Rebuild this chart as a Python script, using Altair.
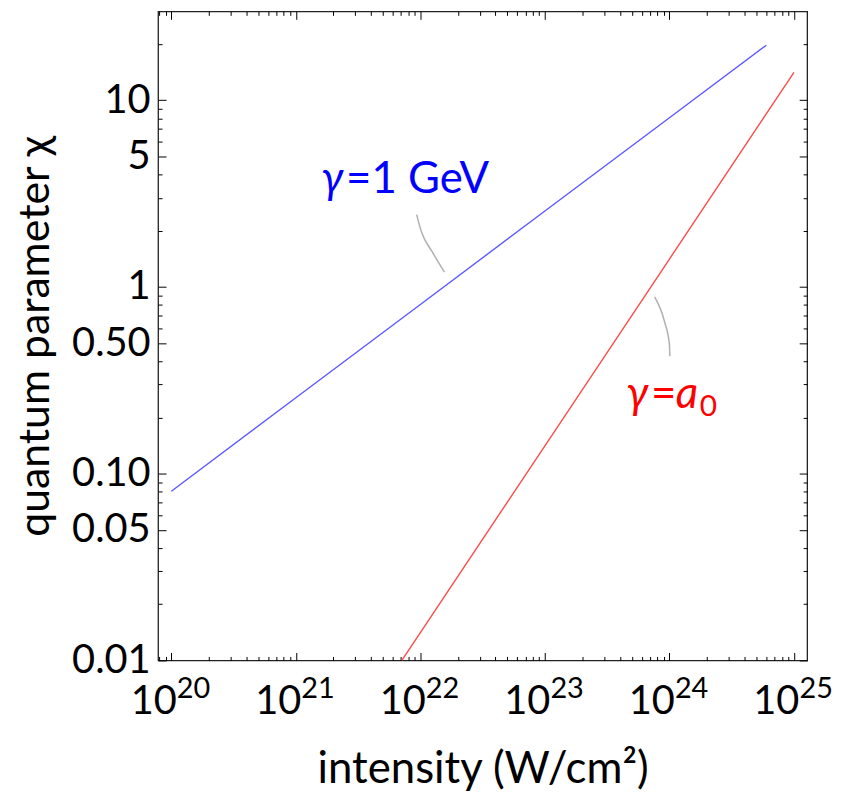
import altair as alt
import pandas as pd

# ---- data ----
blue_intensity = [1e20, 1e21, 1e22, 1e23, 1e24, 6e24]
blue_chi = [0.0805, 0.255, 0.805, 2.55, 8.05, 19.7]
red_intensity = [7.1e21, 1e22, 1e23, 1e24, 1e25]
red_chi = [0.01, 0.0141, 0.141, 1.41, 14.1]

blue_leader_intensity = [9.33e21, 1.023e22, 1.25e22, 1.56e22]
blue_leader_chi = [2.44, 1.96, 1.535, 1.20]
red_leader_intensity = [7.6e23, 9.14e23, 1.0e24, 1.007e24]
red_leader_chi = [0.885, 0.651, 0.491, 0.425]

label_intensity = [1.6e21, 4.49e23]
label_chi = [3.2, 0.2244]
label_colors = ["#0000ff", "#ff0000"]

x_domain = [7.83e19, 1.276e25]
y_domain = [0.01, 29.9]

x_label_values = [1e20, 1e21, 1e22, 1e23, 1e24, 1e25]
x_label_exponents = ["20", "21", "22", "23", "24", "25"]
x_tick_values = [8e19, 9e19] + [m * 10.0 ** e for e in range(20, 25) for m in range(1, 10)] + [1e25]

y_label_values = [0.01, 0.05, 0.1, 0.5, 1.0, 5.0, 10.0]
y_label_texts = ["0.01", "0.05", "0.10", "0.50", "1", "5", "10"]
y_tick_values = [m * 10.0 ** e for e in range(-2, 1) for m in range(1, 10)] + [10.0, 20.0]

W = 653
H = 653
FONT = "Lato"


def chain(values, texts):
    expr = "''"
    for v, t in reversed(list(zip(values, texts))):
        expr = f"abs(datum.value/{v!r}-1)<1e-6 ? '{t}' : ({expr})"
    return expr


x_major_test = "abs(log(datum.value)/LN10 - round(log(datum.value)/LN10)) < 0.001"
y_major_test = ("abs(log(datum.value)/LN10 - round(log(datum.value)/LN10)) < 0.001 || "
                "abs(log(datum.value/5)/LN10 - round(log(datum.value/5)/LN10)) < 0.001")

xscale = alt.Scale(type="log", domain=x_domain, nice=False)
yscale = alt.Scale(type="log", domain=y_domain, nice=False)

# axes
ax_x_base = alt.Axis(orient="bottom", values=x_label_values, labelExpr="'10'", labelFontSize=40,
                     labelAlign="right", labelOffset=5, labelBaseline="alphabetic", labelPadding=53,
                     ticks=False, tickSize=0, domain=False, grid=False, labelFlush=False,
                     labelOverlap=False, title="intensity (W/cm²)", titleFontSize=44,
                     titleFontWeight="normal", titlePadding=27)
ax_x_exp = alt.Axis(orient="bottom", values=x_label_values,
                    labelExpr=chain(x_label_values, x_label_exponents),
                    labelFontSize=29, labelAlign="left", labelOffset=5, labelBaseline="alphabetic",
                    labelPadding=37, ticks=False, tickSize=0, domain=False, grid=False,
                    labelFlush=False, labelOverlap=False, title=None)
x_ticksize = {"condition": {"test": x_major_test, "value": 8}, "value": 4}
ax_x_bottom_ticks = alt.Axis(orient="top", offset=-H, values=x_tick_values, labels=False, domain=False,
                             grid=False, ticks=True, tickSize=x_ticksize, tickColor="black", tickWidth=1,
                             title=None)
ax_x_top_ticks = alt.Axis(orient="bottom", offset=-H, values=x_tick_values, labels=False, domain=False,
                          grid=False, ticks=True, tickSize=x_ticksize, tickColor="black", tickWidth=1,
                          title=None)

ax_y_labels = alt.Axis(orient="left", values=y_label_values, labelExpr=chain(y_label_values, y_label_texts),
                       labelFontSize=40, labelPadding=8, labelBaseline="middle", ticks=False, tickSize=0,
                       domain=False, grid=False, labelFlush=False, labelOverlap=False,
                       title="quantum parameter χ", titleFontSize=43, titleFontWeight="normal",
                       titlePadding=14)
y_ticksize = {"condition": {"test": y_major_test, "value": 8}, "value": 4}
ax_y_left_ticks = alt.Axis(orient="right", offset=-W, values=y_tick_values, labels=False, domain=False,
                           grid=False, ticks=True, tickSize=y_ticksize, tickColor="black", tickWidth=1,
                           title=None)
ax_y_right_ticks = alt.Axis(orient="left", offset=-W, values=y_tick_values, labels=False, domain=False,
                            grid=False, ticks=True, tickSize=y_ticksize, tickColor="black", tickWidth=1,
                            title=None)

blue_df = pd.DataFrame({"intensity": blue_intensity, "chi": blue_chi})
red_df = pd.DataFrame({"intensity": red_intensity, "chi": red_chi})
leader_df = pd.DataFrame({
    "intensity": blue_leader_intensity + red_leader_intensity,
    "chi": blue_leader_chi + red_leader_chi,
    "which": ["blue"] * len(blue_leader_chi) + ["red"] * len(red_leader_chi),
})
labels_df = pd.DataFrame({"intensity": label_intensity, "chi": label_chi, "color": label_colors})
blue_label_df = labels_df.iloc[[0]]
red_label_df = labels_df.iloc[[1]]


def X(axis):
    return alt.X("intensity:Q", scale=xscale, axis=axis)


def Y(axis):
    return alt.Y("chi:Q", scale=yscale, axis=axis)


blue_line = alt.Chart(blue_df).mark_line(color="#5a5aff", strokeWidth=1.4).encode(
    x=X(ax_x_base), y=Y(ax_y_labels))
red_line = alt.Chart(red_df).mark_line(color="#ff4a4a", strokeWidth=1.4).encode(
    x=X(ax_x_exp), y=Y(ax_y_left_ticks))
leaders = alt.Chart(leader_df).mark_line(color="#b0b0b0", strokeWidth=1.5, interpolate="monotone").encode(
    x=X(ax_x_bottom_ticks), y=Y(ax_y_right_ticks), detail="which:N")

gamma = alt.Chart(labels_df).mark_text(text="γ", font=FONT, fontSize=44, fontStyle="italic",
                                       align="left", baseline="alphabetic").encode(
    x=X(ax_x_top_ticks), y=Y(None), color=alt.Color("color:N", scale=None))
gev = alt.Chart(blue_label_df).mark_text(text="=1 GeV", font=FONT, fontSize=44, align="left",
                                         baseline="alphabetic", dx=25, color="#0000ff").encode(
    x=X(None), y=Y(None))
eq = alt.Chart(red_label_df).mark_text(text="=", font=FONT, fontSize=44, align="left",
                                       baseline="alphabetic", dx=25, color="#ff0000").encode(
    x=X(None), y=Y(None))
a_txt = alt.Chart(red_label_df).mark_text(text="a", font=FONT, fontSize=44, fontStyle="italic",
                                          align="left", baseline="alphabetic", dx=50,
                                          color="#ff0000").encode(x=X(None), y=Y(None))
sub0 = alt.Chart(red_label_df).mark_text(text="0", font=FONT, fontSize=30, align="left",
                                         baseline="alphabetic", dx=74, dy=8,
                                         color="#ff0000").encode(x=X(None), y=Y(None))

chart = alt.layer(blue_line, red_line, leaders, gamma, gev, eq, a_txt, sub0).resolve_axis(
    x="independent", y="independent"
).properties(
    width=W, height=H, padding={"left": 6, "top": 0, "right": 0, "bottom": 0}
).configure_view(
    stroke="#222222", strokeWidth=1.3
).configure_axis(
    labelFont=FONT, titleFont=FONT, labelColor="black", titleColor="black"
)

chart.save("out.html", embed_options={"renderer": "svg", "actions": False})
